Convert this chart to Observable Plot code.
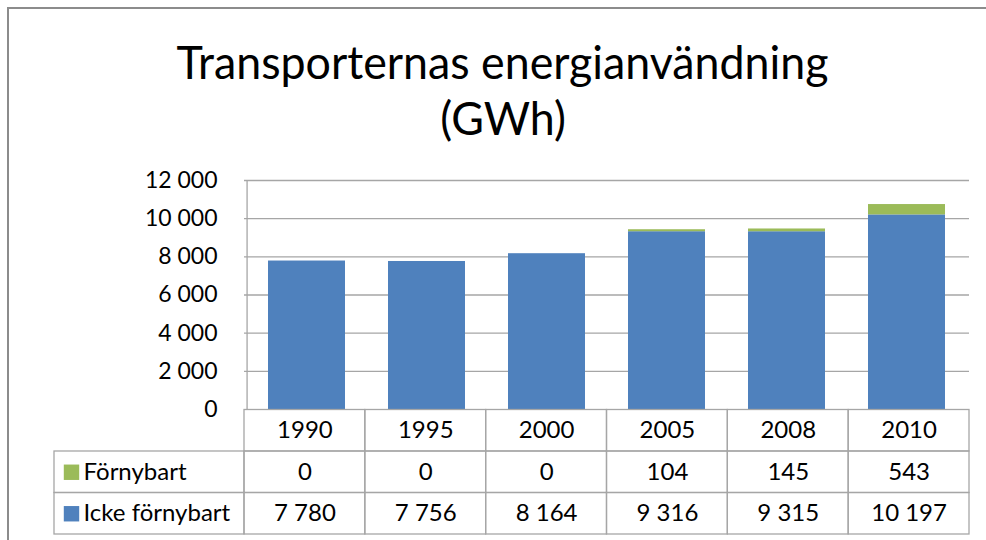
<!DOCTYPE html>
<html>
<head>
<meta charset="utf-8">
<script src="https://cdn.jsdelivr.net/npm/d3@7"></script>
<script src="https://cdn.jsdelivr.net/npm/@observablehq/plot@0.6"></script>
<style>
html,body{margin:0;padding:0;background:#fff;overflow:hidden;}
#root{position:relative;width:986px;height:540px;overflow:hidden;background:#fff;font-family:Lato,"Liberation Sans",sans-serif;}
#border{position:absolute;left:7px;top:7px;width:1100px;height:700px;border-left:2px solid #8c8c8c;border-top:2px solid #8c8c8c;}
#title{position:absolute;left:10px;top:33px;width:986px;text-align:center;font-size:47px;line-height:56px;color:#000;}
#title .tl{display:block;white-space:nowrap;height:56px;}
#title .tl span{display:inline-block;transform-origin:50% 50%;}
#chart{position:absolute;left:0;top:160px;}
#table{position:absolute;left:0;top:409px;}
</style>
</head>
<body>
<div id="root">
  <div id="border"></div>
  <div id="title"></div>
  <div id="chart"></div>
  <div id="table"></div>
</div>
<script>
// ---- data ----
const years = ["1990", "1995", "2000", "2005", "2008", "2010"];
const series = ["Förnybart", "Icke förnybart"];
const fornybart = [0, 0, 0, 104, 145, 543];
const ickeFornybart = [7780, 7756, 8164, 9316, 9315, 10197];
const yTicks = [0, 2000, 4000, 6000, 8000, 10000, 12000];
const colors = ["#9BBB59", "#4F81BD"];
const titleLines = ["Transporternas energianvändning", "(GWh)"];

// ---- helpers ----
const sv = d3.formatLocale({decimal: ",", thousands: "\u00a0", grouping: [3], currency: ["", "\u00a0kr"]});
const fmt = sv.format(",d");
const FONT = "Lato, 'Liberation Sans', sans-serif";
const W = 986, L = 244, R = 17, TL = 54;
const step = (W - L - R) / years.length;
const gridColor = "#a6a6a6";

// ---- title ----
const titleEl = document.getElementById("title");
const spans = titleLines.map(t => {
  const line = document.createElement("div");
  line.className = "tl";
  const s = document.createElement("span");
  s.textContent = t;
  line.appendChild(s);
  titleEl.appendChild(line);
  return s;
});
const w0 = spans[0].getBoundingClientRect().width;
const k = 652 / w0;
spans.forEach(s => s.style.transform = `scaleX(${k})`);

// ---- chart ----
const stacked = [
  ...years.map((y, i) => ({year: y, series: series[1], value: ickeFornybart[i]})),
  ...years.map((y, i) => ({year: y, series: series[0], value: fornybart[i]}))
];

const chart = Plot.plot({
  width: W, height: 249,
  marginTop: 20, marginBottom: 0, marginLeft: L, marginRight: R,
  style: {fontFamily: FONT, fontSize: "23px", color: "#000", background: "transparent", overflow: "visible"},
  x: {type: "band", domain: years, padding: 0, axis: null},
  y: {domain: [0, 12000], axis: null},
  color: {domain: series, range: colors},
  marks: [
    Plot.gridY(yTicks.filter(t => t > 0), {stroke: gridColor, strokeOpacity: 1, strokeWidth: 1.3}),
    Plot.ruleX([years[0]], {x: d => d, dx: -step / 2, stroke: gridColor, strokeWidth: 1.3}),
    Plot.barY(stacked, {x: "year", y: "value", fill: "series", insetLeft: 21, insetRight: 22}),
    Plot.axisY(yTicks, {tickSize: 0, tickPadding: 27, tickFormat: fmt, fontSize: 23, fill: "#000", label: null})
  ]
});
document.getElementById("chart").appendChild(chart);

// ---- data table ----
const legendW = (L - TL) / step;
const cells = [];
years.forEach((y, i) => { for (let r = 0; r < 3; r++) cells.push({x1: i, x2: i + 1, y1: r, y2: r + 1}); });
series.forEach((s, j) => cells.push({x1: -legendW, x2: 0, y1: j + 1, y2: j + 2}));

const yearTexts = years.map((y, i) => ({x: i + 0.5, y: 0.5, text: y}));
const valueTexts = [
  ...fornybart.map((v, i) => ({x: i + 0.5, y: 1.5, text: fmt(v)})),
  ...ickeFornybart.map((v, i) => ({x: i + 0.5, y: 2.5, text: fmt(v)}))
];
const legendItems = series.map((s, j) => ({x: -legendW, y: j + 1.5, label: s}));

const table = Plot.plot({
  width: W, height: 131,
  marginTop: 0.5, marginBottom: 6, marginLeft: TL, marginRight: R,
  style: {fontFamily: FONT, fontSize: "24px", color: "#000", background: "transparent", overflow: "visible"},
  x: {domain: [-legendW, years.length], axis: null},
  y: {domain: [0, 3], reverse: true, axis: null},
  color: {domain: series, range: colors},
  marks: [
    Plot.rect(cells, {x1: "x1", x2: "x2", y1: "y1", y2: "y2", fill: "none", stroke: gridColor, strokeWidth: 1.3}),
    Plot.text(yearTexts, {x: "x", y: "y", text: "text", fontSize: 24, fill: "#000"}),
    Plot.text(valueTexts, {x: "x", y: "y", text: "text", fontSize: 24, fill: "#000"}),
    Plot.dot(legendItems, {x: "x", y: "y", dx: 17, symbol: "square", r: 8.7, fill: "label"}),
    Plot.text(legendItems, {x: "x", y: "y", dx: 29, text: "label", textAnchor: "start", fontSize: 24, fill: "#000"})
  ]
});
document.getElementById("table").appendChild(table);
</script>
</body>
</html>
